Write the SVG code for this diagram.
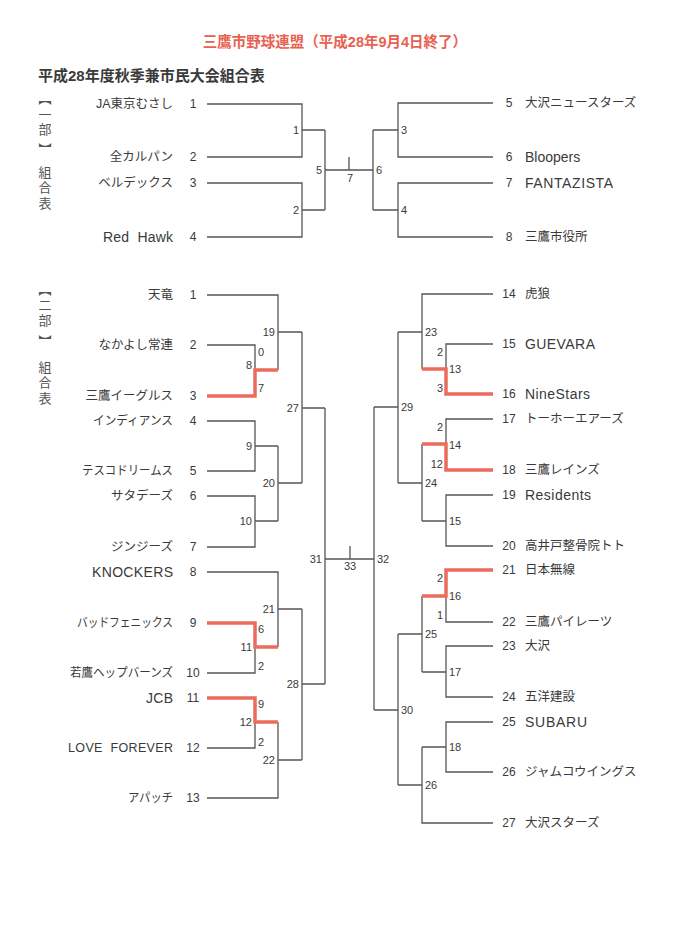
<svg xmlns="http://www.w3.org/2000/svg" width="692" height="938" viewBox="0 0 692 938">
<style>
.bg{fill:#ffffff}
.ln{stroke:#555;stroke-width:1.3;fill:none}
.rd{stroke:#eb6c5c;stroke-width:3.5;fill:none}
text{font-family:"Liberation Sans","Noto Sans CJK JP",sans-serif;fill:#3a3a3a;dominant-baseline:central}
.tt{font-size:14.5px;font-weight:bold;fill:#e8604f;text-anchor:middle}
.st{font-size:15px;font-weight:bold;fill:#3a3a3a}
.vt{font-size:13px;fill:#555;font-family:"Noto Sans CJK JP",sans-serif;writing-mode:vertical-rl;text-orientation:upright;letter-spacing:2.5px}
.nmL{font-size:12.5px;text-anchor:end}
.nmR{font-size:12.5px;text-anchor:start}
.lat{font-size:14px}
.no{font-size:12px;text-anchor:middle}
.lb{font-size:11px}
.lL{text-anchor:end}
.lR{text-anchor:start}
.lM{text-anchor:middle}
</style>
<rect class="bg" x="0" y="0" width="692" height="938"/>
<g id="title">
<text class="tt" x="335" y="42">三鷹市野球連盟（平成28年9月4日終了）</text>
<text class="st" x="38" y="75">平成28年度秋季兼市民大会組合表</text>
</g>
<g id="part1-label">
<text class="vt" x="45" y="92">【一部</text>
<text class="vt" x="45" y="143">】</text>
<text class="vt" x="45" y="165.5">組合表</text>
</g>
<g id="part2-label">
<text class="vt" x="45" y="283">【二部</text>
<text class="vt" x="45" y="335">】</text>
<text class="vt" x="45" y="360.5">組合表</text>
</g>
<g id="connectors">
<path class="ln" d="M207,104 H302 V157 H207 M302,130 H325 M207,183 H302 V237 H207 M302,210 H325 M325,130 V210 M325,170 H373 M349,157 V170"/>
<path class="ln" d="M493,103 H398 V157 H493 M398,130 H373 M493,183 H398 V237 H493 M398,210 H373 M373,130 V210"/>
<path class="ln" d="M207,295 H278 V370 M207,345 H255 V370 M278,332 H302 M207,421 H255 V471 H207 M255,446 H278 M207,496 H255 V547 H207 M255,521 H278 M278,446 V521 M278,483 H302 M302,332 V483 M302,408 H325 M207,572 H278 V647 M207,673 H255 V647 M278,609 H302 M207,748 H255 V722 M207,798 H278 V722 M278,760 H302 M302,609 V760 M302,684 H325 M325,408 V684 M325,559 H374 M350,546 V559"/>
<path class="ln" d="M493,294 H422 V369 M493,344 H446 V369 M422,332 H398 M493,419 H446 V444 M422,444 V521 M493,495 H446 V546 H493 M446,521 H422 M422,483 H398 M398,332 V483 M398,407 H374 M493,622 H446 V596 M493,646 H446 V697 H493 M446,672 H422 M422,596 V672 M422,634 H398 M493,722 H446 V772 H493 M446,747 H422 M493,823 H422 V747 M422,785 H398 M398,634 V785 M398,710 H374 M374,407 V710"/>
<path class="rd" d="M207,396 H255 V370 H278"/>
<path class="rd" d="M207,623 H255 V647 H278"/>
<path class="rd" d="M207,698 H255 V722 H278"/>
<path class="rd" d="M493,394 H446 V369 H422"/>
<path class="rd" d="M493,470 H446 V444 H422"/>
<path class="rd" d="M493,570 H446 V596 H422"/>
</g>
<g id="p1-team1"><text class="nmL" x="173" y="104">JA東京むさし</text><text class="no" x="193" y="104">1</text></g>
<g id="p1-team2"><text class="nmL" x="173" y="157">全カルパン</text><text class="no" x="193" y="157">2</text></g>
<g id="p1-team3"><text class="nmL" x="173" y="183">ベルデックス</text><text class="no" x="193" y="183">3</text></g>
<g id="p1-team4"><text class="nmL lat" x="173" y="237" textLength="70" lengthAdjust="spacing" xml:space="preserve">Red  Hawk</text><text class="no" x="193" y="237">4</text></g>
<g id="p1-team5"><text class="no" x="509" y="103">5</text><text class="nmR" x="525" y="103">大沢ニュースターズ</text></g>
<g id="p1-team6"><text class="no" x="509" y="157">6</text><text class="nmR lat" x="525" y="157">Bloopers</text></g>
<g id="p1-team7"><text class="no" x="509" y="183">7</text><text class="nmR lat" x="525" y="183" textLength="88" lengthAdjust="spacing">FANTAZISTA</text></g>
<g id="p1-team8"><text class="no" x="509" y="237">8</text><text class="nmR" x="525" y="237">三鷹市役所</text></g>
<g id="p1-matches">
<text class="lb lL" x="299" y="130">1</text>
<text class="lb lL" x="299" y="210">2</text>
<text class="lb lL" x="322" y="170">5</text>
<text class="lb lR" x="401" y="130">3</text>
<text class="lb lR" x="401" y="210">4</text>
<text class="lb lR" x="376" y="170">6</text>
<text class="lb lM" x="350" y="178">7</text>
</g>
<g id="p2-team1"><text class="nmL" x="173" y="295">天竜</text><text class="no" x="193" y="295">1</text></g>
<g id="p2-team2"><text class="nmL" x="173" y="345">なかよし常連</text><text class="no" x="193" y="345">2</text></g>
<g id="p2-team3"><text class="nmL" x="173" y="396">三鷹イーグルス</text><text class="no" x="193" y="396">3</text></g>
<g id="p2-team4"><text class="nmL" x="173" y="421" textLength="80" lengthAdjust="spacingAndGlyphs">インディアンス</text><text class="no" x="193" y="421">4</text></g>
<g id="p2-team5"><text class="nmL" x="173" y="471" textLength="91" lengthAdjust="spacingAndGlyphs">テスコドリームス</text><text class="no" x="193" y="471">5</text></g>
<g id="p2-team6"><text class="nmL" x="173" y="496">サタデーズ</text><text class="no" x="193" y="496">6</text></g>
<g id="p2-team7"><text class="nmL" x="173" y="547">ジンジーズ</text><text class="no" x="193" y="547">7</text></g>
<g id="p2-team8"><text class="nmL lat" x="173" y="572" textLength="81" lengthAdjust="spacing">KNOCKERS</text><text class="no" x="193" y="572">8</text></g>
<g id="p2-team9"><text class="nmL" x="173" y="623" textLength="96" lengthAdjust="spacingAndGlyphs">バッドフェニックス</text><text class="no" x="193" y="623">9</text></g>
<g id="p2-team10"><text class="nmL" x="173" y="673" textLength="103" lengthAdjust="spacingAndGlyphs">若鷹ヘップバーンズ</text><text class="no" x="193" y="673">10</text></g>
<g id="p2-team11"><text class="nmL lat" x="173" y="698" textLength="27" lengthAdjust="spacing">JCB</text><text class="no" x="193" y="698">11</text></g>
<g id="p2-team12"><text class="nmL" x="173" y="748" textLength="105" lengthAdjust="spacing" xml:space="preserve">LOVE  FOREVER</text><text class="no" x="193" y="748">12</text></g>
<g id="p2-team13"><text class="nmL" x="173" y="798" textLength="45" lengthAdjust="spacingAndGlyphs">アパッチ</text><text class="no" x="193" y="798">13</text></g>
<g id="p2-team14"><text class="no" x="509" y="294">14</text><text class="nmR" x="525" y="294">虎狼</text></g>
<g id="p2-team15"><text class="no" x="509" y="344">15</text><text class="nmR lat" x="525" y="344" textLength="70" lengthAdjust="spacing">GUEVARA</text></g>
<g id="p2-team16"><text class="no" x="509" y="394">16</text><text class="nmR lat" x="525" y="394" textLength="65" lengthAdjust="spacing">NineStars</text></g>
<g id="p2-team17"><text class="no" x="509" y="419">17</text><text class="nmR" x="525" y="419">トーホーエアーズ</text></g>
<g id="p2-team18"><text class="no" x="509" y="470">18</text><text class="nmR" x="525" y="470">三鷹レインズ</text></g>
<g id="p2-team19"><text class="no" x="509" y="495">19</text><text class="nmR lat" x="525" y="495" textLength="66" lengthAdjust="spacing">Residents</text></g>
<g id="p2-team20"><text class="no" x="509" y="546">20</text><text class="nmR" x="525" y="546">高井戸整骨院トト</text></g>
<g id="p2-team21"><text class="no" x="509" y="570">21</text><text class="nmR" x="525" y="570">日本無線</text></g>
<g id="p2-team22"><text class="no" x="509" y="622">22</text><text class="nmR" x="525" y="622">三鷹パイレーツ</text></g>
<g id="p2-team23"><text class="no" x="509" y="646">23</text><text class="nmR" x="525" y="646">大沢</text></g>
<g id="p2-team24"><text class="no" x="509" y="697">24</text><text class="nmR" x="525" y="697">五洋建設</text></g>
<g id="p2-team25"><text class="no" x="509" y="722">25</text><text class="nmR lat" x="525" y="722" textLength="62" lengthAdjust="spacing">SUBARU</text></g>
<g id="p2-team26"><text class="no" x="509" y="772">26</text><text class="nmR" x="525" y="772">ジャムコウイングス</text></g>
<g id="p2-team27"><text class="no" x="509" y="823">27</text><text class="nmR" x="525" y="823">大沢スターズ</text></g>
<g id="p2-matches-left">
<text class="lb lR" x="258" y="352">0</text>
<text class="lb lL" x="252" y="365">8</text>
<text class="lb lR" x="258" y="388">7</text>
<text class="lb lL" x="275" y="332">19</text>
<text class="lb lL" x="252" y="446">9</text>
<text class="lb lL" x="252" y="521">10</text>
<text class="lb lL" x="275" y="483">20</text>
<text class="lb lL" x="299" y="408">27</text>
<text class="lb lL" x="275" y="609">21</text>
<text class="lb lR" x="258" y="629">6</text>
<text class="lb lL" x="252" y="647">11</text>
<text class="lb lR" x="258" y="666">2</text>
<text class="lb lL" x="299" y="684">28</text>
<text class="lb lR" x="258" y="704">9</text>
<text class="lb lL" x="252" y="722">12</text>
<text class="lb lR" x="258" y="742">2</text>
<text class="lb lL" x="275" y="760">22</text>
<text class="lb lL" x="322" y="559">31</text>
<text class="lb lM" x="350" y="566">33</text>
</g>
<g id="p2-matches-right">
<text class="lb lL" x="443" y="352">2</text>
<text class="lb lR" x="449" y="369">13</text>
<text class="lb lL" x="443" y="388">3</text>
<text class="lb lR" x="425" y="332">23</text>
<text class="lb lR" x="401" y="407">29</text>
<text class="lb lL" x="443" y="427">2</text>
<text class="lb lR" x="449" y="445">14</text>
<text class="lb lL" x="443" y="464">12</text>
<text class="lb lR" x="425" y="483">24</text>
<text class="lb lR" x="449" y="521">15</text>
<text class="lb lR" x="377" y="559">32</text>
<text class="lb lL" x="443" y="578">2</text>
<text class="lb lR" x="449" y="596">16</text>
<text class="lb lL" x="443" y="615">1</text>
<text class="lb lR" x="425" y="634">25</text>
<text class="lb lR" x="449" y="672">17</text>
<text class="lb lR" x="401" y="710">30</text>
<text class="lb lR" x="449" y="747">18</text>
<text class="lb lR" x="425" y="785">26</text>
</g>
</svg>
